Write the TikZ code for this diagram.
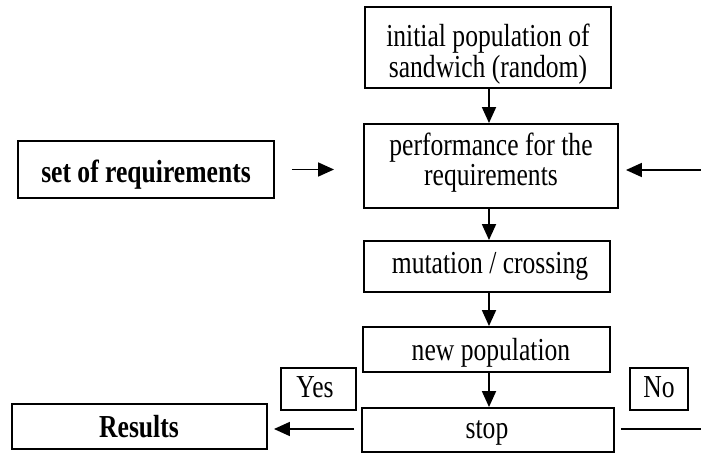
\documentclass[tikz,border=0pt]{standalone}
\usepackage{fontspec}
\setmainfont[FakeStretch=0.8]{Liberation Serif}
\usetikzlibrary{arrows.meta}
\begin{document}
\begin{tikzpicture}[x=1pt,y=-1pt,
  box/.style={draw, line width=1.9pt, rectangle, inner sep=0pt},
  txt/.style={inner sep=0pt, anchor=base, font=\fontsize{32}{31}\selectfont},
  btxt/.style={txt, font=\fontsize{32}{31}\selectfont\bfseries},
  arr/.style={line width=1.8pt, -{Triangle[length=16pt,width=14pt]}},
  plain/.style={line width=1.8pt}]
\useasboundingbox (0,0) rectangle (701,454);
% boxes
\node[box, minimum width=246pt, minimum height=81pt] (init) at (488,47.5) {};
\node[box, minimum width=254pt, minimum height=84pt] (perf) at (491,166) {};
\node[box, minimum width=256pt, minimum height=57pt] (req) at (146,169.5) {};
\node[box, minimum width=246pt, minimum height=51pt] (mut) at (487,266.5) {};
\node[box, minimum width=247pt, minimum height=45pt] (newpop) at (486.5,349.5) {};
\node[box, minimum width=252pt, minimum height=44pt] (stop) at (488,430) {};
\node[box, minimum width=75pt, minimum height=42pt] (yes) at (318.5,389) {};
\node[box, minimum width=58pt, minimum height=42pt] (no) at (659,389) {};
\node[box, minimum width=255pt, minimum height=45pt] (res) at (139.5,426.5) {};
% texts
\node[txt] (initA) at (488,47) {initial population of};
\node[txt] (initB) at (488,78) {sandwich (random)};
\node[txt] (perfA) at (491,156) {performance for the};
\node[txt] (perfB) at (491,186) {requirements};
\node[btxt] (reqT) at (146,183) {set of requirements};
\node[txt] (mutT) at (490,273) {mutation / crossing};
\node[txt] (newpopT) at (491,360) {new population};
\node[txt] (stopT) at (487,438) {stop};
\node[txt] (yesT) at (315,397) {Yes};
\node[txt] (noT) at (659,397) {No};
\node[btxt] (resT) at (139,437) {Results};
% connectors
\coordinate (spine) at (489,0);
\coordinate (rin) at (701,170);
\coordinate (rout) at (701,429);
\draw[arr] (init.south -| spine) -- (perf.north -| spine);
\draw[arr] (perf.south -| spine) -- (mut.north -| spine);
\draw[arr] (mut.south -| spine) -- (newpop.north -| spine);
\draw[arr] (newpop.south -| spine) -- (stop.north -| spine);
\draw[arr] ([xshift=17pt]req.east) -- ([xshift=-29pt]perf.west |- req.east);
\draw[arr] (rin) -- ([xshift=7pt]perf.east |- rin);
\draw[arr] ([xshift=-7pt]stop.west |- rout) -- ([xshift=6pt]res.east |- rout);
\draw[plain] ([xshift=6pt]stop.east |- rout) -- (rout);
\end{tikzpicture}
\end{document}
